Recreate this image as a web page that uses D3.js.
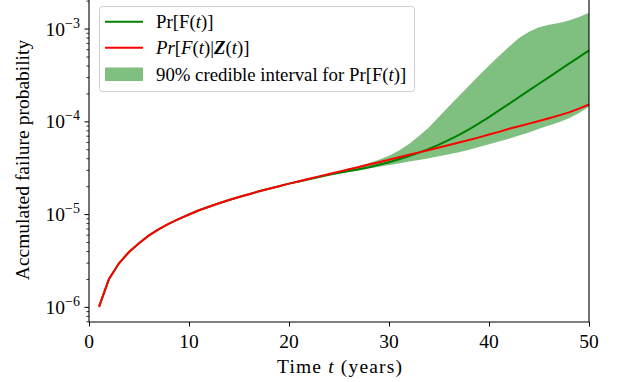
<!DOCTYPE html>
<html>
<head>
<meta charset="utf-8">
<script src="https://cdn.jsdelivr.net/npm/d3@7"></script>
<style>
body { margin: 0; background: #fff; }
svg text { font-family: "Liberation Serif", "Times New Roman", serif; fill: #000; }
</style>
</head>
<body>
<div id="chart"></div>
<script>
// values
var years = d3.range(1, 51);
var prF = [1.0e-6, 2.0e-6, 2.95e-6, 3.9e-6, 4.85e-6, 5.9e-6, 6.9e-6, 7.9e-6, 8.9e-6, 9.9e-6,
  1.1e-5, 1.2e-5, 1.31e-5, 1.42e-5, 1.53e-5, 1.64e-5, 1.76e-5, 1.88e-5, 2.0e-5, 2.13e-5,
  2.25e-5, 2.38e-5, 2.51e-5, 2.65e-5, 2.79e-5, 2.92e-5, 3.05e-5, 3.2e-5, 3.4e-5, 3.62e-5,
  3.9e-5, 4.22e-5, 4.6e-5, 5.05e-5, 5.6e-5, 6.3e-5, 7.15e-5, 8.2e-5, 9.5e-5, 1.11e-4,
  1.31e-4, 1.545e-4, 1.825e-4, 2.155e-4, 2.54e-4, 3.0e-4, 3.54e-4, 4.18e-4, 4.93e-4, 5.82e-4];
var prFZ = [1.0e-6, 2.0e-6, 2.95e-6, 3.9e-6, 4.85e-6, 5.9e-6, 6.9e-6, 7.9e-6, 8.9e-6, 9.9e-6,
  1.1e-5, 1.2e-5, 1.31e-5, 1.42e-5, 1.53e-5, 1.64e-5, 1.76e-5, 1.88e-5, 2.0e-5, 2.13e-5,
  2.26e-5, 2.4e-5, 2.55e-5, 2.7e-5, 2.87e-5, 3.04e-5, 3.22e-5, 3.42e-5, 3.63e-5, 3.86e-5,
  4.1e-5, 4.36e-5, 4.63e-5, 4.92e-5, 5.23e-5, 5.56e-5, 5.92e-5, 6.3e-5, 6.72e-5, 7.2e-5,
  7.7e-5, 8.3e-5, 8.85e-5, 9.45e-5, 1.01e-4, 1.08e-4, 1.16e-4, 1.25e-4, 1.37e-4, 1.52e-4];
var bandYears = d3.range(20, 51);
var bandLow = [2.1e-5, 2.22e-5, 2.35e-5, 2.48e-5, 2.6e-5, 2.72e-5, 2.84e-5, 2.96e-5, 3.1e-5, 3.24e-5,
  3.38e-5, 3.52e-5, 3.68e-5, 3.84e-5, 4.0e-5, 4.2e-5, 4.42e-5, 4.65e-5, 4.95e-5, 5.3e-5,
  5.65e-5, 6.05e-5, 6.5e-5, 7.05e-5, 7.6e-5, 8.3e-5, 9.0e-5, 9.8e-5, 1.08e-4, 1.23e-4, 1.44e-4];
var bandHigh = [2.15e-5, 2.28e-5, 2.42e-5, 2.56e-5, 2.72e-5, 2.9e-5, 3.08e-5, 3.3e-5, 3.55e-5, 3.85e-5,
  4.25e-5, 4.85e-5, 5.7e-5, 6.95e-5, 8.65e-5, 1.12e-4, 1.45e-4, 1.87e-4, 2.42e-4, 3.12e-4,
  4.0e-4, 5.05e-4, 6.35e-4, 7.9e-4, 9.25e-4, 1.03e-3, 1.1e-3, 1.15e-3, 1.22e-3, 1.33e-3, 1.48e-3];
var xTicks = [0, 10, 20, 30, 40, 50];
var yTicks = [1e-6, 1e-5, 1e-4, 1e-3];
var yExp = ["\u22126", "\u22125", "\u22124", "\u22123"];

var width = 624,
    height = 382;

var svg = d3.select("#chart").append("svg")
    .attr("width", width)
    .attr("height", height);

var x = d3.scaleLinear().domain([0, 50]).range([89, 589]);
var y = d3.scaleLog().domain([6.87e-7, 2.3e-3]).range([322, -5]);

// band
var area = d3.area()
    .x(function(d, i) { return x(bandYears[i]); })
    .y0(function(d, i) { return y(bandLow[i]); })
    .y1(function(d, i) { return y(bandHigh[i]); });

svg.append("path")
    .datum(bandYears)
    .attr("d", area)
    .attr("fill", "#008000")
    .attr("fill-opacity", 0.5);

var line = d3.line()
    .x(function(d) { return x(d[0]); })
    .y(function(d) { return y(d[1]); });

svg.append("path")
    .datum(years.map(function(t, i) { return [t, prF[i]]; }))
    .attr("d", line)
    .attr("fill", "none")
    .attr("stroke", "#008000")
    .attr("stroke-width", 2);

svg.append("path")
    .datum(years.map(function(t, i) { return [t, prFZ[i]]; }))
    .attr("d", line)
    .attr("fill", "none")
    .attr("stroke", "#ff0000")
    .attr("stroke-width", 2);

// x axis
var gx = svg.append("g")
    .attr("transform", "translate(0,322)")
    .call(d3.axisBottom(x).tickValues(xTicks).tickSize(4.5).tickFormat(""));
gx.select(".domain").remove();
gx.selectAll("line").attr("stroke", "#000").attr("stroke-width", 1);

svg.selectAll(".xlab")
    .data(xTicks)
  .enter().append("text")
    .attr("x", function(d) { return x(d); })
    .attr("y", 348)
    .attr("text-anchor", "middle")
    .style("font-size", "19.5px")
    .text(function(d) { return d; });

// y axis, major + minor
var minor = [];
yTicks.forEach(function(v) {
  for (var k = 2; k <= 9; k++) minor.push(v * k);
});
minor.push(7e-7, 8e-7, 9e-7);
minor = minor.filter(function(v) { return v >= 6.87e-7 && v <= 2.3e-3; });

var gy = svg.append("g")
    .attr("transform", "translate(89,0)")
    .call(d3.axisLeft(y).tickValues(yTicks).tickSize(4.5).tickFormat(""));
gy.select(".domain").remove();
gy.selectAll("line").attr("stroke", "#000").attr("stroke-width", 1);

var gm = svg.append("g")
    .attr("transform", "translate(89,0)")
    .call(d3.axisLeft(y).tickValues(minor).tickSize(2.6).tickFormat(""));
gm.select(".domain").remove();
gm.selectAll("line").attr("stroke", "#000").attr("stroke-width", 0.8);

var ylab = svg.selectAll(".ylab")
    .data(yTicks)
  .enter().append("text")
    .attr("x", 80)
    .attr("y", function(d) { return y(d) + 7; })
    .attr("text-anchor", "end")
    .style("font-size", "19.5px");
ylab.append("tspan").text("10");
ylab.append("tspan")
    .attr("dy", -8)
    .style("font-size", "14px")
    .text(function(d, i) { return yExp[i]; });

// spines
svg.append("line").attr("x1", 89).attr("x2", 89).attr("y1", -5).attr("y2", 322)
    .attr("stroke", "#000").attr("stroke-width", 1.1);
svg.append("line").attr("x1", 589).attr("x2", 589).attr("y1", -5).attr("y2", 322)
    .attr("stroke", "#000").attr("stroke-width", 1.1);
svg.append("line").attr("x1", 89).attr("x2", 589).attr("y1", 322).attr("y2", 322)
    .attr("stroke", "#000").attr("stroke-width", 1.1);

// axis titles
var xt = svg.append("text")
    .attr("x", 277)
    .attr("y", 373)
    .attr("textLength", 125)
    .attr("lengthAdjust", "spacing")
    .style("font-size", "19.5px");
xt.append("tspan").text("Time ");
xt.append("tspan").style("font-style", "italic").text("t");
xt.append("tspan").text(" (years)");

svg.append("text")
    .attr("transform", "translate(29,160) rotate(-90)")
    .attr("text-anchor", "middle")
    .style("font-size", "19.5px")
    .text("Accmulated failure probability");

// legend
var lg = svg.append("g");
lg.append("rect")
    .attr("x", 99.5).attr("y", 6.5)
    .attr("width", 315).attr("height", 85)
    .attr("rx", 3)
    .attr("fill", "#fff").attr("fill-opacity", 0.8)
    .attr("stroke", "#d0d0d0").attr("stroke-width", 1);

lg.append("line").attr("x1", 105).attr("x2", 143).attr("y1", 21.7).attr("y2", 21.7)
    .attr("stroke", "#008000").attr("stroke-width", 2);
lg.append("line").attr("x1", 105).attr("x2", 143).attr("y1", 47.7).attr("y2", 47.7)
    .attr("stroke", "#ff0000").attr("stroke-width", 2);
lg.append("rect").attr("x", 105).attr("y", 67.5).attr("width", 38).attr("height", 13.5)
    .attr("fill", "#008000").attr("fill-opacity", 0.5);

function addRich(yb, parts) {
  var t = lg.append("text").attr("x", 156).attr("y", yb).style("font-size", "18.8px");
  parts.forEach(function(p) {
    var s = t.append("tspan").text(p[0]);
    if (p[1] === "i") s.style("font-style", "italic");
    if (p[1] === "bi") s.style("font-style", "italic").style("font-weight", "bold");
  });
}
addRich(28, [["Pr[F(", ""], ["t", "i"], [")]", ""]]);
addRich(54, [["Pr", "i"], ["[", ""], ["F", "i"], ["(", ""], ["t", "i"], [")|", ""], ["Z", "bi"], ["(", ""], ["t", "i"], [")]", ""]]);
addRich(80.5, [["90% credible interval for Pr[F(", ""], ["t", "i"], [")]", ""]]);
</script>
</body>
</html>
